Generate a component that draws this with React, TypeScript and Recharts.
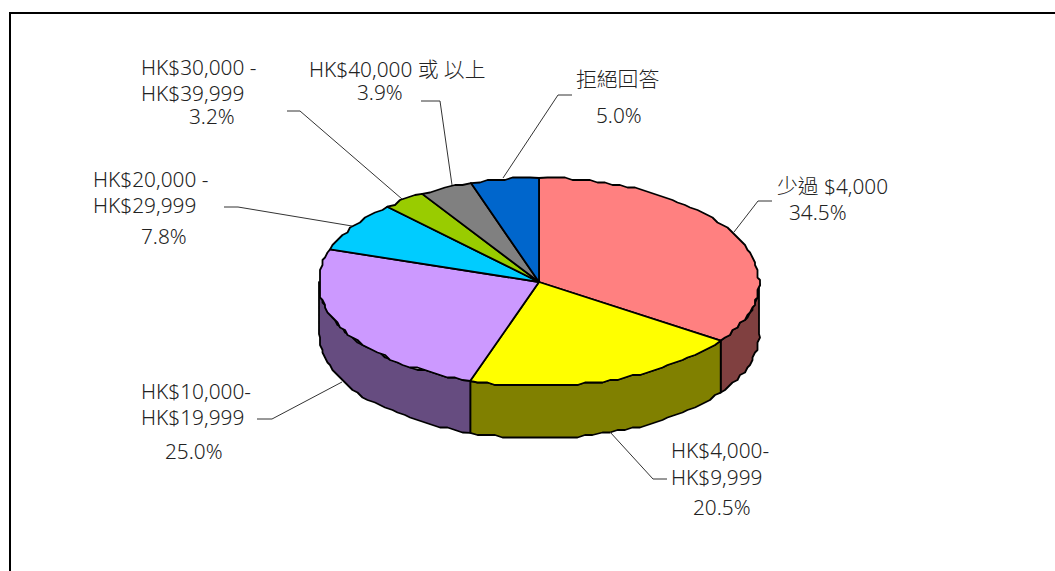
import type { JSX } from "react";

import { Pie, PieChart } from "recharts";

const categories = [
	["少過 $4,000"],
	["HK$4,000-", "HK$9,999"],
	["HK$10,000-", "HK$19,999"],
	["HK$20,000 -", "HK$29,999"],
	["HK$30,000 -", "HK$39,999"],
	["HK$40,000 或 以上"],
	["拒絕回答"],
];
const shares = [34.5, 20.5, 25.0, 7.8, 3.2, 3.9, 5.0];
const topColors = ["#FF8080", "#FFFF00", "#CC99FF", "#00CCFF", "#99CC00", "#808080", "#0066CC"];
const wallColors = ["#804040", "#808000", "#664C80", "#006680", "#4C6600", "#404040", "#003366"];

const pieData = categories.map((lines, i) => ({ name: lines.join(" "), value: shares[i] }));

// where each label's lines sit: [x, baseline], the last one is the percentage
const labelSpots = [
	[[777, 194], [789, 220]],
	[[671, 458], [671, 485], [693, 515]],
	[[141, 399], [141, 425], [165, 459]],
	[[93, 187], [93, 213], [141, 244]],
	[[141, 75], [141, 101], [189, 124]],
	[[309, 77], [357, 100]],
	[[576, 87], [596, 123]],
];
const leaderLines = [
	"772,201 758,201 734,232",
	"667,479 653,479 610,432",
	"257,419 272,419 342,382",
	"224,207 238,207 352,226",
	"287,111 300,111 402,199",
	"421,101 440,101 452,185",
	"572,95 558,95 503,178",
];

const SQUASH = 104 / 220;
const DEPTH = 52;
const GRID = 2.5;

// the original edge is a coarse polygon, so sample the arc and snap it to a grid
function arcPoints(cx: number, cy: number, r: number, from: number, to: number): string[] {
	const steps = Math.max(1, Math.round(Math.abs(to - from) / 2.2));
	const pts: string[] = [];
	for (let i = 0; i <= steps; i++) {
		const rad = ((from + ((to - from) * i) / steps) * Math.PI) / 180;
		let x = cx + r * Math.cos(rad);
		let y = cy - r * SQUASH * Math.sin(rad);
		if (i > 0 && i < steps) {
			x = Math.round(x / GRID) * GRID;
			y = Math.round(y / GRID) * GRID;
		}
		pts.push(`${x.toFixed(1)},${y.toFixed(1)}`);
	}
	return pts;
}

function Slice(props: any): JSX.Element {
	const { cx, cy, outerRadius, startAngle, endAngle, index } = props;
	const top = [`${cx},${cy}`, ...arcPoints(cx, cy, outerRadius, startAngle, endAngle)];
	const wallFrom = Math.min(startAngle, 0);
	const wallTo = Math.max(endAngle, -180);
	let wall: string | null = null;
	if (wallFrom > wallTo) {
		const upper = arcPoints(cx, cy, outerRadius, wallFrom, wallTo);
		const lower = arcPoints(cx, cy + DEPTH, outerRadius, wallTo, wallFrom);
		wall = [...upper, ...lower].join(" ");
	}
	return (
		<g>
			{wall && <polygon fill={wallColors[index]} points={wall} stroke="#000" strokeLinejoin="round" strokeWidth={1.8} />}
			<polygon fill={topColors[index]} points={top.join(" ")} stroke="#000" strokeLinejoin="round" strokeWidth={1.8} />
		</g>
	);
}

function SliceLabel({ index }: any): JSX.Element {
	const spots = labelSpots[index];
	const texts = [...categories[index], `${shares[index].toFixed(1)}%`];
	return (
		<g>
			<polyline fill="none" points={leaderLines[index]} stroke="#333" strokeWidth={1} />
			{texts.map((text, i) => (
				<text
					fill="#222"
					fontFamily="'Noto Sans', 'Noto Sans CJK TC', sans-serif"
					fontSize={20.8}
					fontWeight={300}
					key={text}
					x={spots[i][0]}
					y={spots[i][1]}
				>
					{text}
				</text>
			))}
		</g>
	);
}

export default function App(): JSX.Element {
	return (
		<div style={{ background: "#fff", height: 571, left: 0, overflow: "hidden", position: "absolute", top: 0, width: 1055 }}>
			<div style={{ borderLeft: "2px solid #000", borderTop: "2px solid #000", height: 571, left: 9, position: "absolute", top: 12, width: 1055 }} />
			<div style={{ left: 0, position: "absolute", top: 0 }}>
				<PieChart height={571} margin={{ bottom: 0, left: 0, right: 0, top: 0 }} width={1055}>
					<Pie
						cx={539}
						cy={282}
						data={pieData}
						dataKey="value"
						endAngle={-270}
						isAnimationActive={false}
						label={SliceLabel}
						labelLine={false}
						outerRadius={220}
						shape={Slice}
						startAngle={90}
					/>
				</PieChart>
			</div>
		</div>
	);
}
